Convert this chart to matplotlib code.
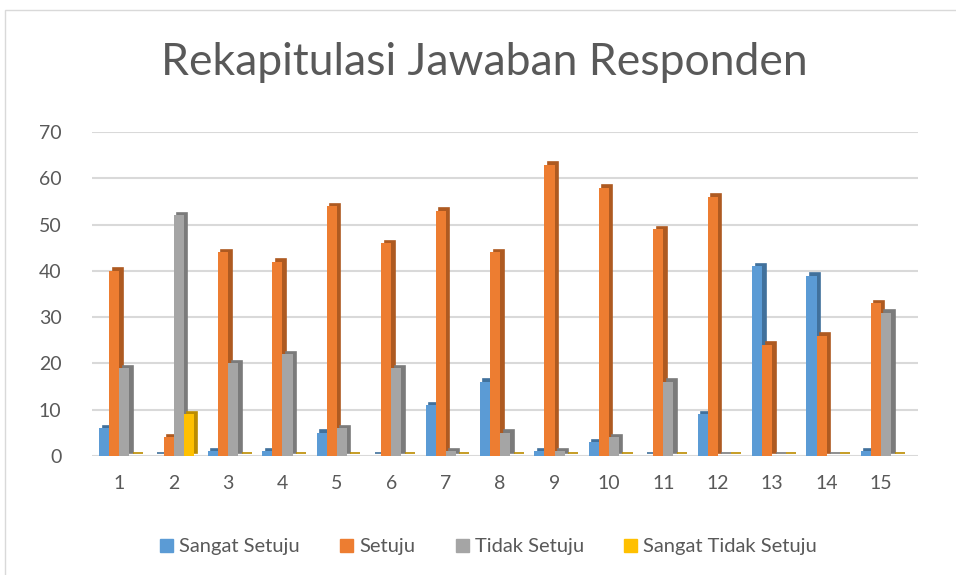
import matplotlib
matplotlib.use("Agg")
import matplotlib.pyplot as plt
import matplotlib.transforms as mtransforms
from matplotlib.patches import Rectangle
import numpy as np

categories = [str(i) for i in range(1, 16)]
series_names = ["Sangat Setuju", "Setuju", "Tidak Setuju", "Sangat Tidak Setuju"]
sangat_setuju = [6, 0, 1, 1, 5, 0, 11, 16, 1, 3, 0, 9, 41, 39, 1]
setuju = [40, 4, 44, 42, 54, 46, 53, 44, 63, 58, 49, 56, 24, 26, 33]
tidak_setuju = [19, 52, 20, 22, 6, 19, 1, 5, 1, 4, 16, 0, 0, 0, 31]
sangat_tidak_setuju = [0, 9, 0, 0, 0, 0, 0, 0, 0, 0, 0, 0, 0, 0, 0]
yticks = [0, 10, 20, 30, 40, 50, 60, 70]

front_colors = ["#5B9BD5", "#ED7D31", "#A5A5A5", "#FFC000"]
side_colors = ["#41719C", "#AE5A21", "#7B7B7B", "#BC8C00"]

plt.rcParams['font.family'] = ['Lato', 'DejaVu Sans']

fig = plt.figure(figsize=(9.56, 5.75), dpi=100)
ax = fig.add_axes([92 / 956, 0.207, 826 / 956, 0.563])

data = [sangat_setuju, setuju, tidak_setuju, sangat_tidak_setuju]
x = np.arange(len(categories))
w = 0.185
offsets = [-1.5 * w, -0.5 * w, 0.5 * w, 1.5 * w]

shadow = mtransforms.offset_copy(ax.transData, fig=fig, x=3.5, y=2.5, units='dots')

for i, vals in enumerate(data):
    xs = x + offsets[i]
    ax.bar(xs, vals, width=w, color=side_colors[i], edgecolor=side_colors[i],
           linewidth=1.2, transform=shadow, zorder=3 + i * 0.1)
    ax.bar(xs, vals, width=w, color=front_colors[i], linewidth=0,
           zorder=3.05 + i * 0.1, label=series_names[i])

ax.set_xlim(-0.5, 14.68)
ax.set_ylim(0, 70)
ax.set_yticks(yticks)
ax.set_xticks(x)
ax.set_xticklabels(categories)
for s in ax.spines.values():
    s.set_visible(False)
ax.tick_params(length=0, colors="#595959", labelsize=14)
ax.tick_params(axis='y', pad=22)
ax.tick_params(axis='x', pad=14)
ax.grid(axis='y', color="#D9D9D9", linewidth=1.5, zorder=0)
ax.set_axisbelow(True)

fig.text(0.507, 0.892, "Rekapitulasi Jawaban Responden", ha='center', va='center',
         fontsize=32, color="#595959")

handles = [Rectangle((0, 0), 1, 1, color=c) for c in front_colors]
fig.legend(handles, series_names, loc='center', bbox_to_anchor=(0.511, 0.049),
           ncol=4, frameon=False, fontsize=14.5, handlelength=0.65, handleheight=0.65,
           columnspacing=2.0, handletextpad=0.3, labelcolor="#595959")

border = Rectangle((5 / 956, -0.01), 1.0, 1 - 10 / 575 + 0.01, transform=fig.transFigure,
                   fill=False, edgecolor="#D9D9D9", linewidth=1)
fig.patches.append(border)

fig.savefig("out.png", dpi=100)
